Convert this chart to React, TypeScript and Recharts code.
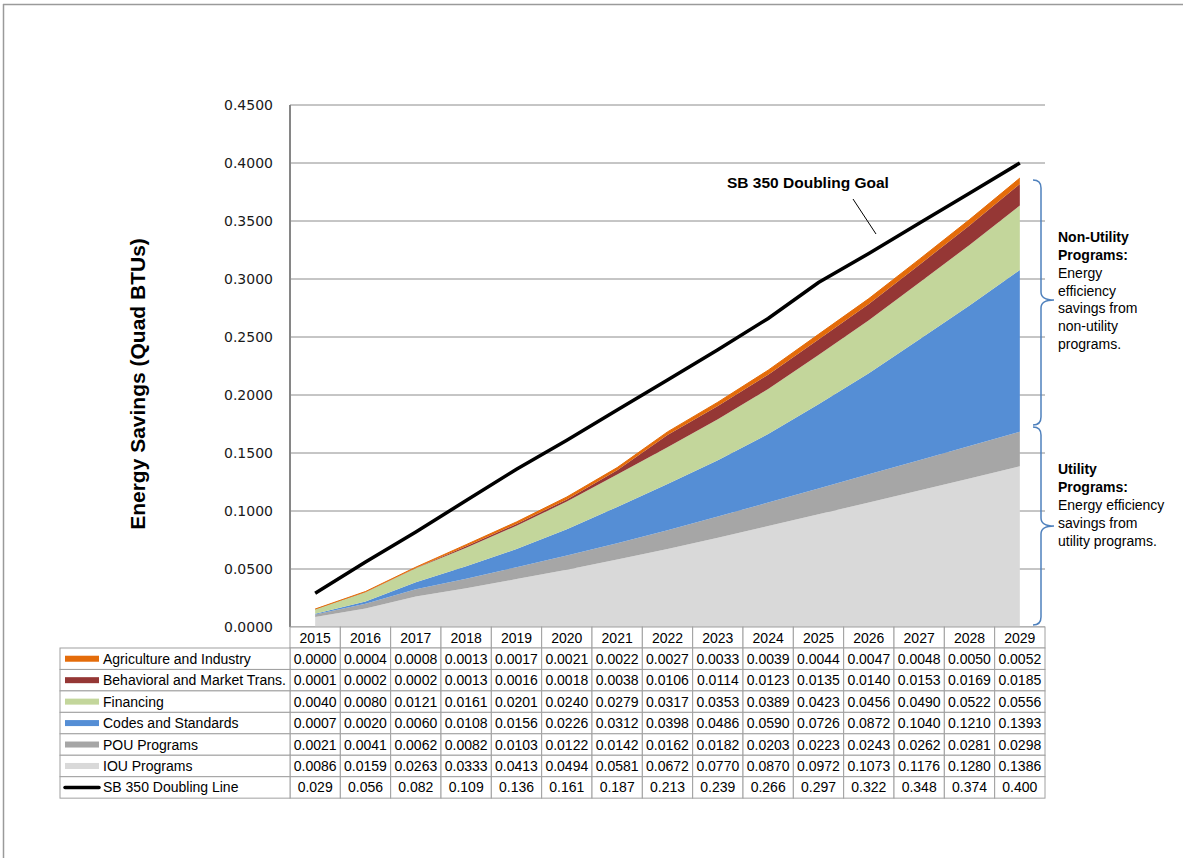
import React from 'react';
import { ComposedChart, Area, Line, XAxis, YAxis, CartesianGrid } from 'recharts';

const years = ['2015', '2016', '2017', '2018', '2019', '2020', '2021', '2022', '2023', '2024', '2025', '2026', '2027', '2028', '2029'];
const agriculture = [0.0000, 0.0004, 0.0008, 0.0013, 0.0017, 0.0021, 0.0022, 0.0027, 0.0033, 0.0039, 0.0044, 0.0047, 0.0048, 0.0050, 0.0052];
const behavioral = [0.0001, 0.0002, 0.0002, 0.0013, 0.0016, 0.0018, 0.0038, 0.0106, 0.0114, 0.0123, 0.0135, 0.0140, 0.0153, 0.0169, 0.0185];
const financing = [0.0040, 0.0080, 0.0121, 0.0161, 0.0201, 0.0240, 0.0279, 0.0317, 0.0353, 0.0389, 0.0423, 0.0456, 0.0490, 0.0522, 0.0556];
const codes = [0.0007, 0.0020, 0.0060, 0.0108, 0.0156, 0.0226, 0.0312, 0.0398, 0.0486, 0.0590, 0.0726, 0.0872, 0.1040, 0.1210, 0.1393];
const pou = [0.0021, 0.0041, 0.0062, 0.0082, 0.0103, 0.0122, 0.0142, 0.0162, 0.0182, 0.0203, 0.0223, 0.0243, 0.0262, 0.0281, 0.0298];
const iou = [0.0086, 0.0159, 0.0263, 0.0333, 0.0413, 0.0494, 0.0581, 0.0672, 0.0770, 0.0870, 0.0972, 0.1073, 0.1176, 0.1280, 0.1386];
const sb350 = [0.029, 0.056, 0.082, 0.109, 0.136, 0.161, 0.187, 0.213, 0.239, 0.266, 0.297, 0.322, 0.348, 0.374, 0.400];
const yTicks = [0, 0.05, 0.1, 0.15, 0.2, 0.25, 0.3, 0.35, 0.4, 0.45];

const data = years.map((year, i) => ({
  year,
  agriculture: agriculture[i],
  behavioral: behavioral[i],
  financing: financing[i],
  codes: codes[i],
  pou: pou[i],
  iou: iou[i],
  sb350: sb350[i],
}));

const tableRows = [
  { key: 'agriculture', label: 'Agriculture and Industry', color: '#e46c0a', kind: 'rect', digits: 4 },
  { key: 'behavioral', label: 'Behavioral and Market Trans.', color: '#953735', kind: 'rect', digits: 4 },
  { key: 'financing', label: 'Financing', color: '#c3d69b', kind: 'rect', digits: 4 },
  { key: 'codes', label: 'Codes and Standards', color: '#558ed5', kind: 'rect', digits: 4 },
  { key: 'pou', label: 'POU Programs', color: '#a6a6a6', kind: 'rect', digits: 4 },
  { key: 'iou', label: 'IOU Programs', color: '#d9d9d9', kind: 'rect', digits: 4 },
  { key: 'sb350', label: 'SB 350 Doubling Line', color: '#000000', kind: 'line', digits: 3 },
];

const W = 1183;
const H = 858;
const M_LEFT = 230;
const Y_W = 60;
const M_RIGHT = 138;
const M_TOP = 105;
const X_H = 231;
const PLOT_W = W - M_LEFT - Y_W - M_RIGHT;
const COL_W = PLOT_W / years.length;
const LABEL_W = 230;
const HEAD_H = 21;
const ROW_H = 21.45;
const FONT = '"Liberation Sans", Arial, sans-serif';
const BORDER = '#a0a0a0';

const TableTick = (props: any) => {
  const { x, y, payload } = props;
  const i = years.indexOf(String(payload.value));
  if (i < 0) return null;
  const left = x - COL_W / 2;
  const items: React.ReactNode[] = [];
  items.push(
    <rect key="h" x={left} y={y} width={COL_W} height={HEAD_H} fill="#fff" stroke={BORDER} strokeWidth={1} />
  );
  items.push(
    <text key="ht" x={x} y={y + HEAD_H / 2 + 5} textAnchor="middle" fontSize={14} fontFamily={FONT} fill="#000">
      {years[i]}
    </text>
  );
  tableRows.forEach((r, ri) => {
    const top = y + HEAD_H + ri * ROW_H;
    const v = (data[i] as any)[r.key] as number;
    items.push(
      <rect key={'c' + ri} x={left} y={top} width={COL_W} height={ROW_H} fill="#fff" stroke={BORDER} strokeWidth={1} />
    );
    items.push(
      <text key={'t' + ri} x={x} y={top + ROW_H / 2 + 5} textAnchor="middle" fontSize={14} fontFamily={FONT} fill="#000">
        {v.toFixed(r.digits)}
      </text>
    );
    if (i === 0) {
      const lx = left - LABEL_W;
      items.push(
        <rect key={'l' + ri} x={lx} y={top} width={LABEL_W} height={ROW_H} fill="#fff" stroke={BORDER} strokeWidth={1} />
      );
      const cy = top + ROW_H / 2;
      if (r.kind === 'rect') {
        items.push(<rect key={'k' + ri} x={lx + 5} y={cy - 3} width={34} height={6} fill={r.color} />);
      } else {
        items.push(
          <line key={'k' + ri} x1={lx + 5} x2={lx + 39} y1={cy} y2={cy} stroke={r.color} strokeWidth={3.5} strokeLinecap="round" />
        );
      }
      items.push(
        <text key={'lt' + ri} x={lx + 43} y={cy + 5} fontSize={14} fontFamily={FONT} fill="#000">
          {r.label}
        </text>
      );
    }
  });
  return <g>{items}</g>;
};

const bracePath = (x: number, y0: number, ym: number, y1: number) => {
  const xl = x - 8;
  const xt = x + 13;
  return [
    `M ${xl} ${y0}`,
    `Q ${x} ${y0} ${x} ${y0 + 8}`,
    `L ${x} ${ym - 8}`,
    `Q ${x} ${ym} ${xt} ${ym}`,
    `Q ${x} ${ym} ${x} ${ym + 8}`,
    `L ${x} ${y1 - 8}`,
    `Q ${x} ${y1} ${xl} ${y1}`,
  ].join(' ');
};

export default function App() {
  return (
    <div style={{ position: 'absolute', left: 0, top: 0, width: W, height: H, background: '#fff' }}>
      <ComposedChart
        width={W}
        height={H}
        data={data}
        margin={{ top: M_TOP, right: M_RIGHT, bottom: 0, left: M_LEFT }}
      >
        <CartesianGrid vertical={false} stroke="#8c8c8c" strokeWidth={1} />
        <XAxis
          dataKey="year"
          scale="point"
          padding={{ left: COL_W / 2, right: COL_W / 2 }}
          height={X_H}
          axisLine={false}
          tickLine={false}
          tickSize={0}
          tickMargin={0}
          interval={0}
          tick={<TableTick />}
        />
        <YAxis
          width={Y_W}
          domain={[0, 0.45]}
          ticks={yTicks}
          interval={0}
          tickFormatter={(v: number) => v.toFixed(4)}
          axisLine={{ stroke: '#868686', strokeWidth: 2 }}
          tickLine={false}
          tickMargin={11}
          tick={{ fontSize: 14, fontFamily: '"DejaVu Sans", Verdana, sans-serif', fill: '#1a1a1a' }}
        />
        <Area type="linear" dataKey="iou" stackId="s" fill="#d9d9d9" fillOpacity={1} stroke="none" isAnimationActive={false} />
        <Area type="linear" dataKey="pou" stackId="s" fill="#a6a6a6" fillOpacity={1} stroke="none" isAnimationActive={false} />
        <Area type="linear" dataKey="codes" stackId="s" fill="#558ed5" fillOpacity={1} stroke="none" isAnimationActive={false} />
        <Area type="linear" dataKey="financing" stackId="s" fill="#c3d69b" fillOpacity={1} stroke="none" isAnimationActive={false} />
        <Area type="linear" dataKey="behavioral" stackId="s" fill="#953735" fillOpacity={1} stroke="none" isAnimationActive={false} />
        <Area type="linear" dataKey="agriculture" stackId="s" fill="#e46c0a" fillOpacity={1} stroke="#e46c0a" strokeWidth={1} isAnimationActive={false} />
        <Line type="linear" dataKey="sb350" stroke="#000" strokeWidth={3.5} dot={false} isAnimationActive={false} />
      </ComposedChart>
      <svg
        width={W}
        height={H}
        style={{ position: 'absolute', left: 0, top: 0, pointerEvents: 'none' }}
      >
        <line x1={3} y1={4.5} x2={W} y2={4.5} stroke="#9a9a9a" strokeWidth={1.5} />
        <line x1={3.5} y1={4} x2={3.5} y2={H} stroke="#9a9a9a" strokeWidth={1.5} />
        <text
          x={139}
          y={384}
          transform="rotate(-90 139 384)"
          textAnchor="middle"
          dominantBaseline="middle"
          fontSize={21}
          fontWeight="bold"
          fontFamily={FONT}
          fill="#000"
        >
          Energy Savings (Quad BTUs)
        </text>
        <text x={727} y={187.5} fontSize={15.5} fontWeight="bold" fontFamily={FONT} fill="#000">
          SB 350 Doubling Goal
        </text>
        <line x1={853} y1={199} x2={876} y2={234} stroke="#000" strokeWidth={1} />
        <path d={bracePath(1041, 180, 300, 425)} fill="none" stroke="#4f81bd" strokeWidth={1.5} />
        <path d={bracePath(1041, 427, 526, 625)} fill="none" stroke="#4f81bd" strokeWidth={1.5} />
        <g fontFamily={FONT} fontSize={14} fill="#000">
          <text x={1058} y={242} fontWeight="bold">Non-Utility</text>
          <text x={1058} y={260} fontWeight="bold">Programs:</text>
          <text x={1058} y={278}>Energy</text>
          <text x={1058} y={295.5}>efficiency</text>
          <text x={1058} y={313}>savings from</text>
          <text x={1058} y={331}>non-utility</text>
          <text x={1058} y={349}>programs.</text>
          <text x={1058} y={474} fontWeight="bold">Utility</text>
          <text x={1058} y={492} fontWeight="bold">Programs:</text>
          <text x={1058} y={510}>Energy efficiency</text>
          <text x={1058} y={528}>savings from</text>
          <text x={1058} y={546}>utility programs.</text>
        </g>
      </svg>
    </div>
  );
}
